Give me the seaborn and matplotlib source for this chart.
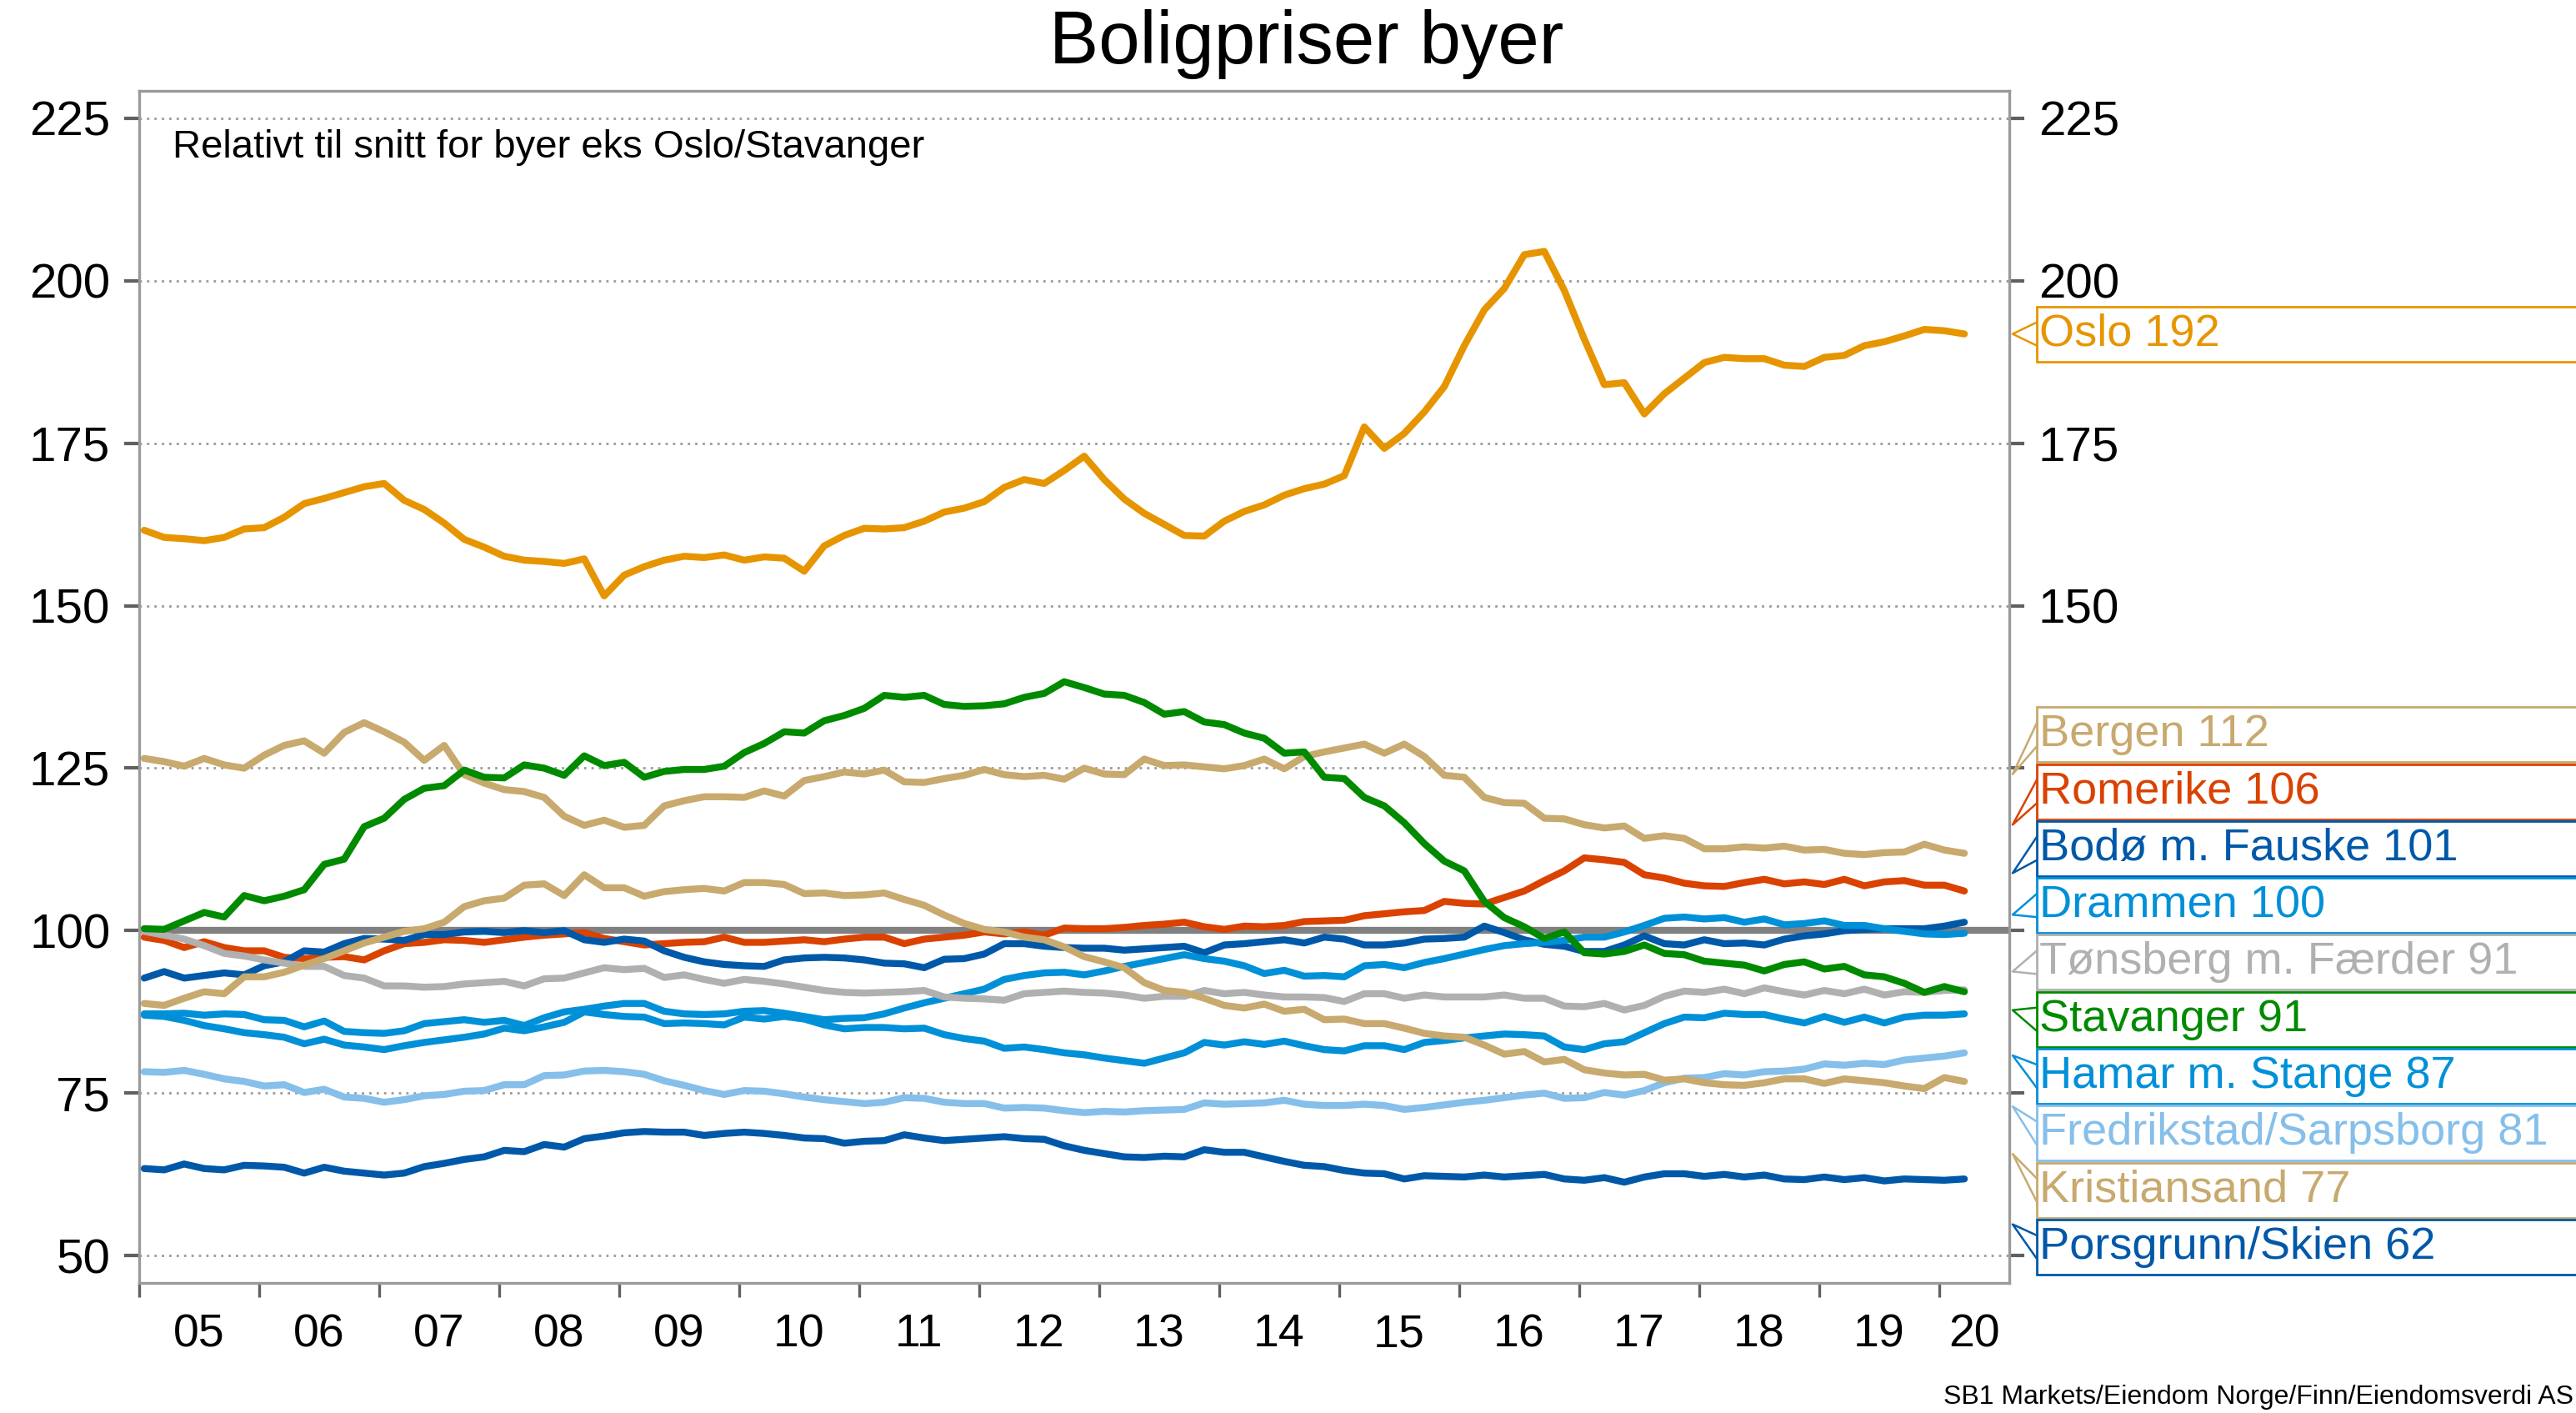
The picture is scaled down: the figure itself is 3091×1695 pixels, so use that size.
"""
Boligpriser byer: house prices in Norwegian cities relative to the city average.
"""

import pandas as pd
import matplotlib
matplotlib.use('Agg')
import matplotlib.pyplot as plt
from matplotlib.patches import Rectangle
from matplotlib.lines import Line2D
import seaborn as sns

months = pd.date_range('2005-01-01', '2020-03-01', freq='2MS')

oslo = [161.6, 160.5, 160.3, 160.0, 160.5, 161.8, 162.0, 163.6, 165.7, 166.5,
        167.4, 168.3, 168.8, 166.2, 164.8, 162.7, 160.2, 159.0, 157.6, 157.0,
        156.8, 156.5, 157.2, 151.5, 154.7, 156.0, 157.0, 157.6, 157.4, 157.8,
        157.0, 157.5, 157.3, 155.3, 159.2, 160.8, 161.9, 161.8, 162.0, 163.0,
        164.4, 165.0, 166.0, 168.2, 169.4, 168.8, 170.8, 173.0, 169.4, 166.4,
        164.2, 162.5, 160.8, 160.7, 163.0, 164.5, 165.5, 167.0, 168.0, 168.7,
        170.0, 177.5, 174.2, 176.5, 179.8, 183.7, 190.0, 195.5, 198.8, 204.0,
        204.5, 198.5, 191.0, 184.0, 184.3, 179.5, 182.6, 185.0, 187.4, 188.2,
        188.0, 188.0, 187.0, 186.8, 188.2, 188.5, 190.0, 190.6, 191.5, 192.5,
        192.3, 191.8]
bergen = [126.5, 126.0, 125.3, 126.5, 125.5, 125.0, 127.0, 128.5, 129.2, 127.3,
          130.5, 132.0, 130.6, 129.0, 126.2, 128.5, 124.0, 122.7, 121.7, 121.4,
          120.5, 117.6, 116.2, 117.0, 115.9, 116.2, 119.2, 120.0, 120.6, 120.6,
          120.5, 121.5, 120.7, 123.1, 123.7, 124.4, 124.1, 124.7, 122.9, 122.8,
          123.4, 123.9, 124.8, 124.0, 123.7, 123.9, 123.3, 125.0, 124.1, 124.0,
          126.4, 125.4, 125.5, 125.2, 124.9, 125.4, 126.4, 124.9, 126.8, 127.5,
          128.1, 128.7, 127.3, 128.7, 126.8, 123.9, 123.6, 120.5, 119.7, 119.6,
          117.3, 117.2, 116.3, 115.8, 116.1, 114.2, 114.6, 114.2, 112.6, 112.6,
          112.9, 112.7, 113.0, 112.4, 112.5, 111.9, 111.7, 112.0, 112.1, 113.3,
          112.4, 111.9]
romerike = [99.0, 98.5, 97.4, 98.3, 97.4, 96.9, 96.9, 95.9, 95.7, 95.9,
            96.0, 95.5, 96.9, 98.0, 98.2, 98.6, 98.5, 98.2, 98.6, 99.0,
            99.3, 99.5, 99.7, 98.8, 98.3, 97.8, 98.0, 98.2, 98.3, 99.0,
            98.2, 98.2, 98.4, 98.6, 98.3, 98.7, 99.0, 99.0, 98.0, 98.7,
            99.0, 99.3, 99.8, 99.5, 99.8, 99.3, 100.4, 100.3, 100.3, 100.5,
            100.8, 101.0, 101.3, 100.6, 100.2, 100.7, 100.6, 100.8, 101.4, 101.5,
            101.6, 102.3, 102.6, 102.9, 103.1, 104.5, 104.2, 104.1, 105.1, 106.1,
            107.7, 109.2, 111.2, 110.9, 110.5, 108.6, 108.1, 107.3, 106.9, 106.8,
            107.4, 107.9, 107.2, 107.5, 107.1, 107.9, 106.9, 107.5, 107.7, 107.0,
            107.0, 106.1]
bodo = [92.7, 93.7, 92.7, 93.1, 93.5, 93.2, 94.6, 95.2, 96.9, 96.7,
        98.0, 98.8, 98.7, 98.5, 99.4, 99.4, 99.8, 99.9, 99.7, 100.0,
        99.7, 100.0, 98.6, 98.2, 98.7, 98.4, 96.9, 95.9, 95.2, 94.8,
        94.6, 94.5, 95.5, 95.8, 95.9, 95.8, 95.5, 95.0, 94.9, 94.3,
        95.6, 95.7, 96.4, 98.0, 98.0, 97.6, 97.4, 97.3, 97.3, 97.0,
        97.2, 97.4, 97.6, 96.6, 97.8, 98.0, 98.3, 98.6, 98.1, 99.0,
        98.7, 97.8, 97.8, 98.1, 98.7, 98.8, 99.0, 100.7, 99.7, 98.6,
        97.9, 97.6, 96.8, 96.8, 97.8, 99.2, 98.0, 97.8, 98.6, 98.0,
        98.1, 97.8, 98.7, 99.2, 99.5, 100.0, 100.2, 100.3, 100.3, 100.3,
        100.7, 101.3]
drammen = [87.2, 87.2, 87.3, 87.0, 87.2, 87.1, 86.3, 86.2, 85.2, 86.1,
           84.5, 84.3, 84.2, 84.6, 85.7, 86.0, 86.3, 85.9, 86.2, 85.4,
           86.6, 87.5, 87.9, 88.4, 88.8, 88.8, 87.6, 87.2, 87.1, 87.2,
           87.6, 87.7, 87.3, 86.8, 86.3, 86.5, 86.6, 87.2, 88.1, 88.9,
           89.6, 90.3, 91.0, 92.5, 93.1, 93.5, 93.6, 93.2, 93.8, 94.5,
           95.1, 95.7, 96.3, 95.7, 95.3, 94.6, 93.4, 93.9, 93.0, 93.1,
           92.9, 94.6, 94.8, 94.3, 95.1, 95.7, 96.4, 97.1, 97.7, 98.0,
           98.2, 98.5, 99.0, 99.0, 99.8, 100.8, 101.9, 102.1, 101.8, 102.0,
           101.3, 101.8, 100.9, 101.1, 101.5, 100.8, 100.8, 100.3, 99.9, 99.5,
           99.4, 99.6]
tonsberg = [99.9, 99.3, 98.7, 97.7, 96.5, 96.1, 95.5, 95.0, 94.5, 94.5,
            93.1, 92.7, 91.5, 91.5, 91.3, 91.4, 91.8, 92.0, 92.2, 91.5,
            92.6, 92.7, 93.5, 94.3, 94.0, 94.2, 92.8, 93.2, 92.5, 91.9,
            92.5, 92.2, 91.8, 91.3, 90.8, 90.5, 90.4, 90.5, 90.6, 90.8,
            89.8, 89.6, 89.5, 89.3, 90.3, 90.5, 90.7, 90.5, 90.4, 90.1,
            89.6, 89.9, 89.9, 90.8, 90.3, 90.5, 90.1, 89.8, 89.8, 89.7,
            89.1, 90.3, 90.3, 89.6, 90.1, 89.8, 89.8, 89.8, 90.1, 89.6,
            89.6, 88.4, 88.3, 88.8, 87.8, 88.5, 89.9, 90.7, 90.5, 91.0,
            90.3, 91.2, 90.6, 90.1, 90.8, 90.3, 91.0, 90.1, 90.6, 90.5,
            90.8, 90.9]
stavanger = [100.3, 100.2, 101.5, 102.8, 102.1, 105.4, 104.6, 105.3, 106.3, 110.2,
             111.0, 116.0, 117.3, 120.2, 121.9, 122.3, 124.7, 123.6, 123.5, 125.5,
             125.0, 123.9, 126.9, 125.4, 125.9, 123.6, 124.5, 124.8, 124.8, 125.3,
             127.4, 128.8, 130.6, 130.4, 132.3, 133.1, 134.2, 136.2, 135.9, 136.2,
             134.8, 134.5, 134.6, 134.9, 135.9, 136.5, 138.3, 137.4, 136.4, 136.2,
             135.1, 133.3, 133.7, 132.1, 131.7, 130.4, 129.6, 127.3, 127.5, 123.6,
             123.4, 120.5, 119.2, 116.6, 113.4, 110.7, 109.2, 104.5, 102.0, 100.6,
             98.8, 99.8, 96.6, 96.4, 96.8, 97.8, 96.5, 96.3, 95.3, 95.0,
             94.7, 93.8, 94.8, 95.2, 94.1, 94.5, 93.2, 92.9, 91.9, 90.5,
             91.4, 90.6]
hamar = [87.0, 86.8, 86.2, 85.4, 84.9, 84.3, 84.0, 83.6, 82.6, 83.3,
         82.4, 82.1, 81.7, 82.3, 82.8, 83.2, 83.6, 84.1, 85.0, 84.6,
         85.2, 85.9, 87.5, 87.1, 86.8, 86.7, 85.7, 85.8, 85.7, 85.5,
         86.7, 86.4, 86.8, 86.4, 85.5, 84.9, 85.1, 85.1, 84.9, 85.0,
         84.0, 83.4, 83.0, 81.9, 82.1, 81.7, 81.2, 80.9, 80.4, 80.0,
         79.6, 80.4, 81.2, 82.8, 82.4, 82.9, 82.5, 83.0, 82.3, 81.7,
         81.5, 82.3, 82.3, 81.7, 82.8, 83.1, 83.5, 83.8, 84.1, 84.0,
         83.8, 82.1, 81.7, 82.6, 82.9, 84.3, 85.7, 86.7, 86.6, 87.3,
         87.1, 87.1, 86.4, 85.8, 86.8, 85.9, 86.7, 85.8, 86.7, 87.0,
         87.0, 87.2]
fredrikstad = [78.3, 78.2, 78.5, 77.9, 77.2, 76.8, 76.1, 76.3, 75.1, 75.6,
               74.4, 74.2, 73.6, 74.0, 74.6, 74.8, 75.3, 75.4, 76.3, 76.3,
               77.7, 77.8, 78.4, 78.5, 78.3, 77.9, 76.9, 76.2, 75.4, 74.8,
               75.4, 75.3, 74.9, 74.4, 74.0, 73.7, 73.4, 73.6, 74.3, 74.2,
               73.6, 73.4, 73.4, 72.7, 72.8, 72.7, 72.3, 72.0, 72.2, 72.1,
               72.3, 72.4, 72.5, 73.5, 73.3, 73.4, 73.5, 73.9, 73.3, 73.1,
               73.1, 73.3, 73.1, 72.5, 72.8, 73.2, 73.6, 73.9, 74.3, 74.7,
               75.0, 74.2, 74.3, 75.1, 74.7, 75.4, 76.6, 77.3, 77.4, 78.0,
               77.8, 78.3, 78.4, 78.7, 79.5, 79.3, 79.6, 79.4, 80.1, 80.4,
               80.7, 81.2]
kristiansand = [88.8, 88.5, 89.6, 90.6, 90.3, 92.9, 92.9, 93.6, 94.7, 95.7,
                96.9, 98.1, 99.0, 99.9, 100.3, 101.3, 103.7, 104.6, 105.0, 107.0,
                107.2, 105.4, 108.6, 106.6, 106.6, 105.3, 106.0, 106.3, 106.5, 106.1,
                107.4, 107.4, 107.1, 105.7, 105.8, 105.4, 105.5, 105.8, 104.8, 103.9,
                102.4, 101.1, 100.2, 99.8, 99.0, 98.6, 97.5, 96.0, 95.2, 94.3,
                92.0, 90.8, 90.5, 89.6, 88.5, 88.1, 88.7, 87.6, 87.9, 86.3,
                86.4, 85.7, 85.7, 85.0, 84.2, 83.8, 83.6, 82.4, 81.0, 81.4,
                79.8, 80.2, 78.6, 78.1, 77.8, 77.9, 77.0, 77.2, 76.6, 76.3,
                76.2, 76.6, 77.2, 77.2, 76.5, 77.2, 76.9, 76.6, 76.1, 75.7,
                77.4, 76.8]
porsgrunn = [63.4, 63.2, 64.1, 63.4, 63.2, 63.9, 63.8, 63.6, 62.7, 63.6,
             63.0, 62.7, 62.4, 62.7, 63.7, 64.2, 64.8, 65.2, 66.2, 66.0,
             67.1, 66.7, 68.0, 68.4, 68.9, 69.1, 69.0, 69.0, 68.5, 68.8,
             69.0, 68.8, 68.5, 68.1, 68.0, 67.3, 67.6, 67.7, 68.6, 68.1,
             67.7, 67.9, 68.1, 68.3, 68.0, 67.9, 66.9, 66.2, 65.7, 65.2,
             65.1, 65.3, 65.2, 66.3, 65.9, 65.9, 65.2, 64.5, 63.9, 63.7,
             63.1, 62.7, 62.6, 61.8, 62.3, 62.2, 62.1, 62.4, 62.1, 62.3,
             62.5, 61.8, 61.6, 62.0, 61.3, 62.1, 62.6, 62.6, 62.2, 62.5,
             62.1, 62.4, 61.8, 61.7, 62.1, 61.7, 62.0, 61.5, 61.8, 61.7,
             61.6, 61.8]

cities = ['Oslo', 'Bergen', 'Romerike', 'Bodø m. Fauske', 'Drammen',
          'Tønsberg m. Færder', 'Stavanger', 'Hamar m. Stange',
          'Fredrikstad/Sarpsborg', 'Kristiansand', 'Porsgrunn/Skien']
series = [oslo, bergen, romerike, bodo, drammen, tonsberg, stavanger,
          hamar, fredrikstad, kristiansand, porsgrunn]
colors = ['#E69500', '#C8A96E', '#DA4200', '#0058A8', '#0090D8', '#B0B0B0',
          '#008A00', '#0090D8', '#85BFEA', '#C8A96E', '#0058A8']
year_labels = ['05', '06', '07', '08', '09', '10', '11', '12', '13', '14',
               '15', '16', '17', '18', '19', '20']
y_ticks = [50, 75, 100, 125, 150, 175, 200, 225]

# Fractional year at mid-month
t = months.year + (months.month - 1) / 12 + 1 / 24

df = pd.concat([pd.DataFrame({'t': t, 'verdi': vals, 'by': name})
                for name, vals in zip(cities, series)], ignore_index=True)
palette = dict(zip(cities, colors))

sns.set_theme(style='white')
plt.rcParams['font.family'] = ['Liberation Sans', 'DejaVu Sans']
plt.rcParams['text.color'] = 'black'

W, H, DPI = 3091, 1695, 200
fig = plt.figure(figsize=(W / DPI, H / DPI), dpi=DPI)
ax = fig.add_axes([167 / W, (H - 1539) / H, (2411 - 167) / W, (1539 - 109) / H])

x_min, x_max = 2005.0, 2020.583
ax.set_xlim(x_min, x_max)
ax.set_ylim(45.8, 229.2)

ax.axhline(100, color='#808080', lw=3.0, zorder=1.5)
sns.lineplot(data=df, x='t', y='verdi', hue='by', hue_order=cities,
             palette=palette, linewidth=3.0, legend=False, ax=ax,
             estimator=None, sort=False, zorder=2)

# y axis on both sides
ax.set_yticks(y_ticks)
ax.yaxis.grid(True, linestyle=(0, (1, 2.2)), color='#9A9A9A', linewidth=1.0)
ax.set_axisbelow(True)
ax.tick_params(axis='y', which='major', left=True, right=True,
               labelleft=True, labelright=True, length=6.5, width=1.5,
               color='#606060', labelcolor='black', direction='out',
               labelsize=21, pad=6)

# x axis: ticks at year boundaries, labels mid-year
years = list(range(2005, 2021))
ax.set_xticks(years)
ax.set_xticklabels([])
ax.tick_params(axis='x', which='major', bottom=True, length=6.2, width=1.2,
               color='#606060', direction='out')
mids = [y + 0.5 for y in years[:-1]] + [(years[-1] + x_max) / 2]
ax.set_xticks(mids, minor=True)
ax.set_xticklabels(year_labels, minor=True)
ax.tick_params(axis='x', which='minor', bottom=True, length=0,
               labelsize=20, labelcolor='black', pad=13)
ax.set_xlabel('')
ax.set_ylabel('')

for side in ['left', 'right', 'top', 'bottom']:
    ax.spines[side].set_visible(True)
    ax.spines[side].set_color('#9A9A9A')
    ax.spines[side].set_linewidth(1.2)

ax.text(0.018, 0.968, 'Relativt til snitt for byer eks Oslo/Stavanger',
        transform=ax.transAxes, fontsize=17, va='top', ha='left', color='black')
fig.text(0.507, 1 - 53 / H, 'Boligpriser byer', ha='center', va='center',
         fontsize=32, color='black')
fig.text(0.999, 19 / H, 'SB1 Markets/Eiendom Norge/Finn/Eiendomsverdi AS',
         ha='right', va='center', fontsize=11.5, color='black')

# End labels: boxes stacked to the right, each with a pointer to its line
BOX_LEFT, BOX_H, STEP, TIP_X, WEDGE = 2444, 66, 68.3, 2415, 14
ends = []
for name, vals, col in zip(cities, series, colors):
    xe, ye = ax.transData.transform((t[-1], vals[-1]))
    ends.append((name, vals[-1], col, xe, ye))
ends.sort(key=lambda e: -e[4])

groups = [[i] for i in range(len(ends))]


def group_top(g):
    return sum(ends[i][4] + j * STEP for j, i in enumerate(g)) / len(g)


changed = True
while changed:
    changed = False
    for k in range(len(groups) - 1):
        a, b = groups[k], groups[k + 1]
        if group_top(a) - (len(a) - 1) * STEP - group_top(b) < STEP:
            groups[k] = a + b
            del groups[k + 1]
            changed = True
            break

box_spans = []
for g in groups:
    top = group_top(g)
    for j, i in enumerate(g):
        name, val, col, xe, ye = ends[i]
        c = top - j * STEP
        box_spans.append((c - BOX_H / 2, c + BOX_H / 2))
        fig.add_artist(Rectangle((BOX_LEFT / W, (c - BOX_H / 2) / H),
                                 (W + 50 - BOX_LEFT) / W, BOX_H / H,
                                 transform=fig.transFigure, facecolor='white',
                                 edgecolor=col, linewidth=1.0, clip_on=False))
        frac = (BOX_LEFT - TIP_X) / (BOX_LEFT - xe)
        tip_y = c + (ye - c) * frac
        fig.add_artist(Line2D([BOX_LEFT / W, TIP_X / W, BOX_LEFT / W],
                              [(c + WEDGE) / H, tip_y / H, (c - WEDGE) / H],
                              transform=fig.transFigure, color=col,
                              linewidth=0.9))
        fig.text((BOX_LEFT + 3) / W, c / H, f'{name} {round(val)}',
                 color=col, fontsize=19.5, ha='left', va='center')

# Right-hand tick labels that sit behind a label box are not shown
for tick, yv in zip(ax.yaxis.get_major_ticks(), y_ticks):
    yp = ax.transData.transform((x_min, yv))[1]
    if any(lo - 20 < yp < hi + 20 for lo, hi in box_spans):
        tick.label2.set_visible(False)

fig.savefig('out.png', dpi=DPI)
